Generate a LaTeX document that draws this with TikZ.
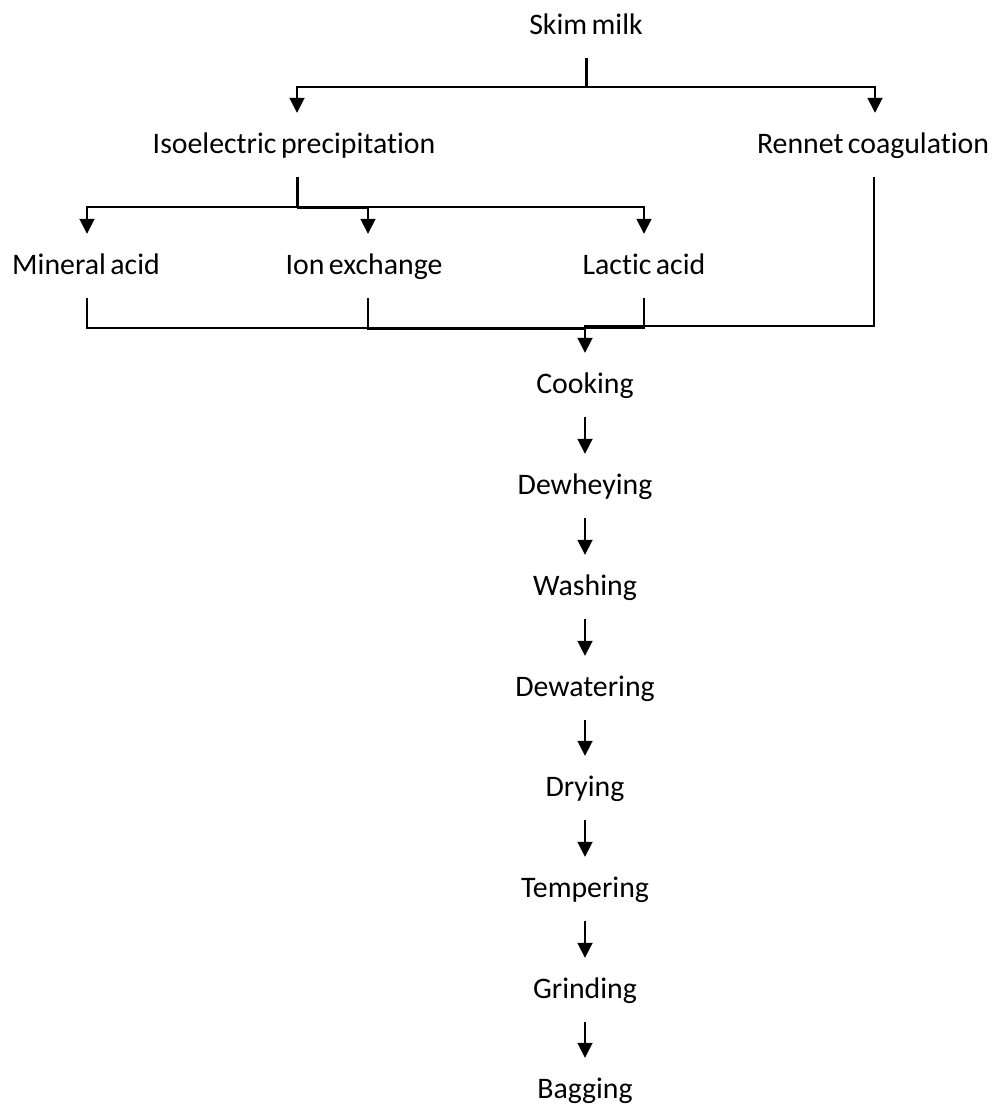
\documentclass[tikz,border=0pt]{standalone}
\usepackage{fontspec}
\setmainfont{Carlito}[Ligatures=NoCommon]
\usetikzlibrary{arrows.meta,calc}
\newcommand\stepfont{\fontsize{29.8}{34}\selectfont\spaceskip=4.5pt plus 1pt minus 1pt\relax}
\begin{document}
\begin{tikzpicture}[x=1pt,y=-1pt,
  lbl/.style={font=\stepfont,
              inner xsep=0pt, inner ysep=20pt,
              text height=20pt, text depth=4pt, anchor=base},
  wire/.style={line width=1.8pt},
  trunk/.style={line width=3pt},
  arr/.style={wire, -{Triangle[length=15pt,width=15pt]}}]
\useasboundingbox (0,0) rectangle (999,1106);

% process steps
\node[lbl] (skim)    at (586,34)  {Skim milk};
\node[lbl] (iso)     at (294,153) {Isoelectric precipitation};
\node[lbl] (rennet)  at (873,153) {Rennet coagulation};
\node[lbl] (mineral) at (86,274)  {Mineral acid};
\node[lbl] (ion)     at (364,274) {Ion exchange};
\node[lbl] (lactic)  at (644,274) {Lactic acid};
\node[lbl] (cooking)    at (585,393)  {Cooking};
\node[lbl] (dewheying)  at (585,494)  {Dewheying};
\node[lbl] (washing)    at (585,595)  {Washing};
\node[lbl] (dewatering) at (585,696)  {Dewatering};
\node[lbl] (drying)     at (585,796)  {Drying};
\node[lbl] (tempering)  at (585,897)  {Tempering};
\node[lbl] (grinding)   at (585,998)  {Grinding};
\node[lbl] (bagging)    at (585,1098) {Bagging};

% first split: acid or rennet route
\coordinate (top) at (586,87);
\draw[trunk] (skim.south) -- (top);
\draw[arr] (top) -| ([xshift=3pt]iso.north);
\draw[arr] (top) -| ([xshift=2pt]rennet.north);

% acid sources
\coordinate (split) at (297,207);
\draw[trunk] ([xshift=3pt]iso.south) -- (split);
\draw[arr] (split) -| ([xshift=1pt]mineral.north);
\draw[arr] ([yshift=-1pt]split) -| ([xshift=4pt]ion.north);
\draw[arr] (split) -| (lactic.north);

% everything joins before cooking
\coordinate (merge) at (585,328);
\draw[wire] ([xshift=1pt]mineral.south) |- (merge);
\draw[wire] ([xshift=4pt]ion.south) |- ([yshift=-1pt]merge);
\draw[wire] (lactic.south) |- (merge);
\draw[arr] ([xshift=1pt]rennet.south) |- ([yshift=2pt]merge) -- (cooking.north);

% main processing line
\foreach \a/\b in {cooking/dewheying, dewheying/washing, washing/dewatering,
                   dewatering/drying, drying/tempering, tempering/grinding,
                   grinding/bagging}
  \draw[arr] (\a) -- (\b);
\end{tikzpicture}
\end{document}
